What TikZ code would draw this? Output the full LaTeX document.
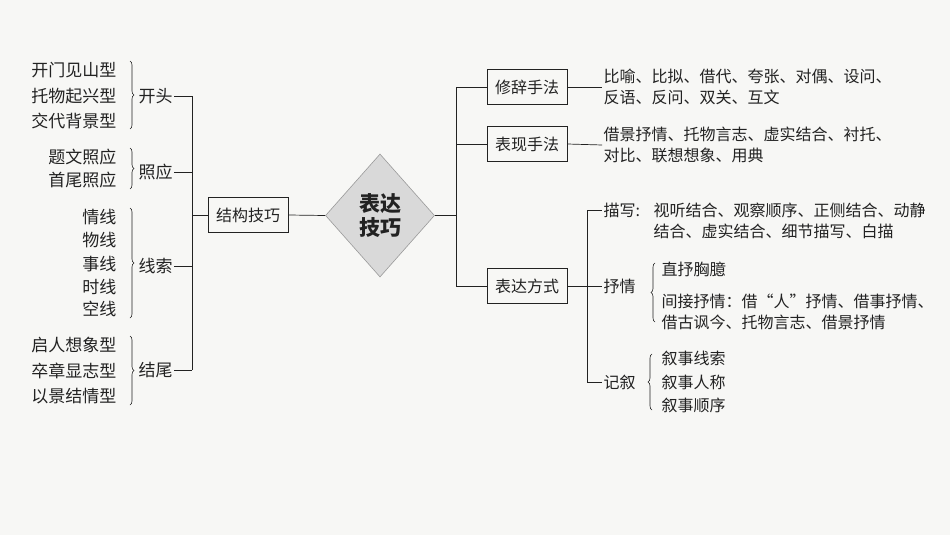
\documentclass[tikz,border=0pt]{standalone}
\usepackage{fontspec}
\setmainfont{Noto Sans CJK SC}
\usetikzlibrary{shapes.geometric,decorations.pathreplacing}
\definecolor{paper}{HTML}{F7F7F5}
\definecolor{ink}{HTML}{222222}
\definecolor{dia}{HTML}{D9D9D9}
\definecolor{diaedge}{HTML}{9A9A9A}
\begin{document}
\begin{tikzpicture}[x=1pt,y=-1pt,
  every node/.style={font=\fontsize{16}{21}\selectfont, text=ink, inner sep=1.5pt},
  item/.style={anchor=east, font=\fontsize{17}{21}\selectfont},
  lbl/.style={anchor=west},
  lblL/.style={anchor=west, font=\fontsize{17}{21}\selectfont},
  boxed/.style={draw=ink, line width=0.7pt, minimum width=80pt, minimum height=35pt, inner sep=0pt},
  conn/.style={draw=ink, line width=0.7pt},
  brc/.style={draw=ink, line width=0.6pt, decorate, decoration={brace, amplitude=4pt}},
  para/.style={anchor=west, align=left, font=\fontsize{16}{21.5}\selectfont}]
\fill[paper] (0,0) rectangle (950,535);
\useasboundingbox (0,0) rectangle (950,535);

% left: 开头
\node[item] (a1) at (118,70) {开门见山型};
\node[item] (a2) at (118,96) {托物起兴型};
\node[item] (a3) at (118,121) {交代背景型};
\draw[brc] (130,61) -- (130,129);
\node[lblL] (kt) at (137,96) {开头};
% 照应
\node[item] (b1) at (118,157) {题文照应};
\node[item] (b2) at (118,180) {首尾照应};
\draw[brc] (130,148) -- (130,189);
\node[lblL] (zy) at (137,172) {照应};
% 线索
\node[item] (c1) at (118,217) {情线};
\node[item] (c2) at (118,240) {物线};
\node[item] (c3) at (118,264) {事线};
\node[item] (c4) at (118,287) {时线};
\node[item] (c5) at (118,309) {空线};
\draw[brc] (130,208) -- (130,318);
\node[lblL] (xs) at (137,266) {线索};
% 结尾
\node[item] (d1) at (118,345) {启人想象型};
\node[item] (d2) at (118,371) {卒章显志型};
\node[item] (d3) at (118,396) {以景结情型};
\draw[brc] (130,336) -- (130,405);
\node[lblL] (jw) at (137,370) {结尾};

\coordinate (vl1) at (192,96);
\coordinate (vl2) at (192,370);
\draw[conn] (vl1) -- (vl2);
\draw[conn] (kt.east) -- (kt.east -| vl1);
\draw[conn] (zy.east) -- (zy.east -| vl1);
\draw[conn] (xs.east) -- (xs.east -| vl1);
\draw[conn] (jw.east) -- (jw.east -| vl1);

\node[boxed] (jg) at (248,215) {结构技巧};
\draw[conn] (jg.west -| vl1) -- (jg.west);

% diamond
\node[diamond, draw=diaedge, fill=dia, line width=0.6pt, inner sep=0pt,
      minimum width=109pt, minimum height=123pt, align=center,
      font=\fontsize{21}{24}\selectfont\bfseries] (core) at (380,215.5) {表达\\技巧};
\draw[conn] (jg.east) -- (core.west);

% right trunk
\coordinate (vr1) at (456,87);
\coordinate (vr2) at (456,286);
\draw[conn] (core.east) -- (core.east -| vr1);
\draw[conn] (vr1) -- (vr2);

\node[boxed] (xc) at (527,87) {修辞手法};
\node[boxed] (bx) at (527,144) {表现手法};
\node[boxed] (bd) at (527,286) {表达方式};
\draw[conn] (vr1) -- (xc.west);
\draw[conn] (bx.west -| vr1) -- (bx.west);
\draw[conn] (vr2) -- (bd.west);

\node[para] (xct) at (602,87) {比喻、比拟、借代、夸张、对偶、设问、\\反语、反问、双关、互文};
\node[para] (bxt) at (602,145) {借景抒情、托物言志、虚实结合、衬托、\\对比、联想想象、用典};
\draw[conn] (xc.east) -- (xct.west);
\draw[conn] (bx.east) -- (bxt.west);

% 表达方式 sub-tree
\coordinate (vs1) at (587,210);
\coordinate (vs2) at (587,382);
\draw[conn] (vs1) -- (vs2);
\node[lbl] (mx) at (602,210) {描写:};
\node[para] (mxt) at (652,221) {视听结合、观察顺序、正侧结合、动静\\结合、虚实结合、细节描写、白描};
\draw[conn] (vs1) -- (mx.west);

\node[lbl] (sq) at (602,286) {抒情};
\draw[conn] (bd.east) -- (sq.west);
\draw[brc] (655,322) -- (655,263);
\node[lbl] (zs) at (660,269) {直抒胸臆};
\node[para] (jj) at (660,312) {间接抒情：借“人”抒情、借事抒情、\\借古讽今、托物言志、借景抒情};

\node[lbl] (jx) at (602,382) {记叙};
\draw[conn] (vs2) -- (jx.west);
\draw[brc] (652,410) -- (652,354);
\node[lbl] (x1) at (660,358) {叙事线索};
\node[lbl] (x2) at (660,382) {叙事人称};
\node[lbl] (x3) at (660,405) {叙事顺序};
\end{tikzpicture}
\end{document}
